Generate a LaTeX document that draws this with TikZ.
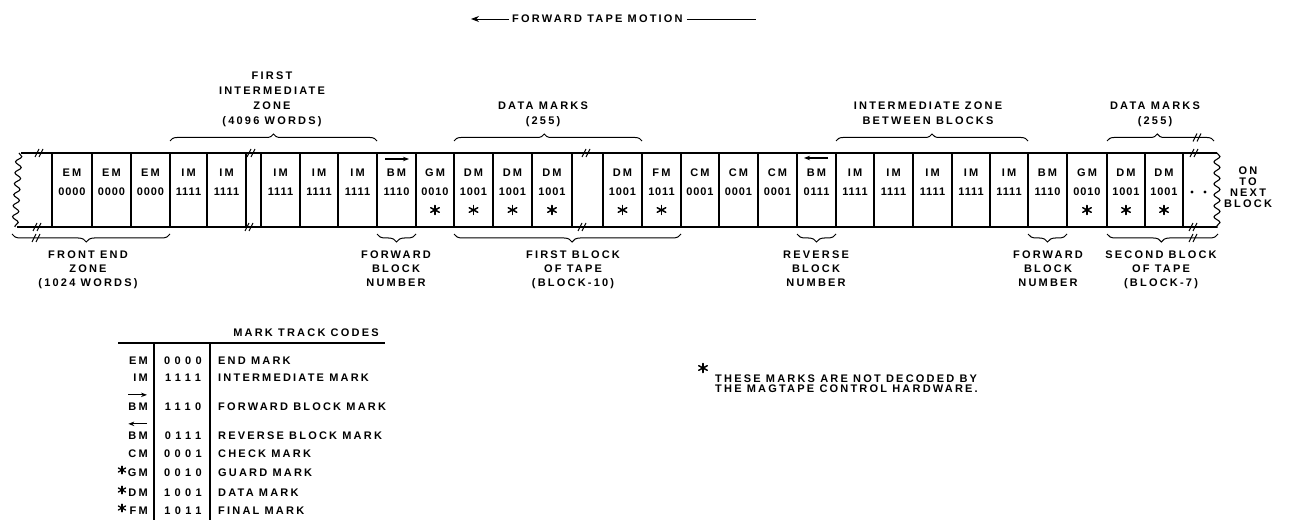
\documentclass[tikz,border=0pt]{standalone}
\usepackage{fontspec}
\newfontfamily\lett{Liberation Sans}[LetterSpace=20]
\newfontfamily\codef{Liberation Sans}[LetterSpace=40]
\newfontfamily\cellf{Liberation Sans}[LetterSpace=8]
\usetikzlibrary{decorations.pathreplacing,decorations.pathmorphing,arrows.meta}
\tikzset{
  cellbox/.style={draw, line width=1.3pt, inner sep=0pt, outer sep=0pt, minimum height=74pt},
  tape/.style={line width=1.3pt},
  one/.style={font={\lett\bfseries\fontsize{11}{13}\selectfont}, inner sep=0pt, text height=7.9pt, text depth=0pt},
  codes/.style={font={\codef\bfseries\fontsize{11}{13}\selectfont}, inner sep=0pt, text height=7.9pt, text depth=0pt},
  cellcode/.style={font={\cellf\bfseries\fontsize{11}{13}\selectfont}, inner sep=0pt, text height=7.9pt, text depth=0pt},
  multi/.style={font={\lett\bfseries\fontsize{11}{#1}\selectfont}, inner sep=0pt, align=center, anchor=north},
  multi/.default=14,
  braceup/.style={decorate, decoration={brace, amplitude=7pt, aspect=#1}, line width=1pt},
  braceup/.default=0.5,
  bracedn/.style={decorate, decoration={brace, amplitude=8pt, aspect=#1}, line width=1pt},
  bracedn/.default=0.5,
  brk/.style={line width=1pt},
  wavy/.style={decorate, decoration={snake, amplitude=3pt, segment length=11pt}, line width=1.1pt},
  tip/.style={-{Stealth[length=6pt,width=4.5pt]}, line width=1.1pt},
  astmark/.pic={
    \draw[line width=1.5pt, line cap=round] (0,-4.5) -- (0,4.5);
    \draw[line width=1.5pt, line cap=round] (-4.3,-2.3) -- (4.3,2.3);
    \draw[line width=1.5pt, line cap=round] (-4.3,2.3) -- (4.3,-2.3);
  },
  astsmall/.pic={
    \draw[line width=1.3pt, line cap=round] (0,-3.8) -- (0,3.8);
    \draw[line width=1.3pt, line cap=round] (-3.6,-2) -- (3.6,2);
    \draw[line width=1.3pt, line cap=round] (-3.6,2) -- (3.6,-2);
  }
}
\begin{document}
\begin{tikzpicture}[x=1pt,y=-1pt]
\useasboundingbox (0,0) rectangle (1289,521);

% forward tape motion
\node[one, anchor=west] (motion) at (512,19) {FORWARD TAPE MOTION};
\coordinate (mL) at (471,19);
\coordinate (mR) at (756,19);
\draw[-{Stealth[length=8pt,width=6pt]}, line width=0.9pt] ([xshift=-3pt]motion.west) -- (mL);
\draw[line width=0.9pt] ([xshift=4pt]motion.east) -- (mR);

% tape edges
\draw[tape] (21,153) -- (1217,153);
\draw[tape] (17,227) -- (1217,227);
\draw[wavy] (19,153) -- (15,227);
\draw[wavy] (1217,153) -- (1217,228);

% cells
\foreach \ii/\xa/\xb/\lab/\code in {
  1/52/92/EM/0000, 2/92/131/EM/0000, 3/131/170/EM/0000,
  4/170/207/IM/1111, 5/207/246/IM/1111,
  6/261/300/IM/1111, 7/300/338/IM/1111, 8/338/377/IM/1111,
  9/377/416/BM/1110, 10/416/454/GM/0010,
  11/454/493/DM/1001, 12/493/532/DM/1001, 13/532/572/DM/1001,
  14/603/642/DM/1001, 15/642/681/FM/1011,
  16/681/719/CM/0001, 17/719/758/CM/0001, 18/758/797/CM/0001,
  19/797/836/BM/0111,
  20/836/874/IM/1111, 21/874/913/IM/1111, 22/913/952/IM/1111,
  23/952/990/IM/1111, 24/990/1028/IM/1111,
  25/1028/1067/BM/1110, 26/1067/1107/GM/0010,
  27/1107/1145/DM/1001, 28/1145/1183/DM/1001} {
  \pgfmathsetmacro\cw{\xb-\xa}
  \pgfmathsetmacro\cm{(\xa+\xb)/2}
  \node[cellbox, minimum width=\cw pt] (c\ii) at (\cm,190) {};
  \node[one] (t\ii) at (\cm,173) {\lab};
  \node[cellcode] (k\ii) at (\cm,192) {\code};
}
\foreach \sx in {435, 473.5, 512.5, 552, 622.5, 661.5, 1087, 1126, 1164}
  \pic at (\sx,210) {astmark};

\draw[tip] ([shift={(8pt,-6pt)}]c9.north west) -- ([shift={(-7pt,-6pt)}]c9.north east);
\draw[tip] ([shift={(-8pt,-5pt)}]c19.north east) -- ([shift={(7pt,-5pt)}]c19.north west);

% dots at the end
\fill (1192,192) circle (1.7);
\fill (1205,192) circle (1.7);

% break marks
\foreach \bx/\by in {40/153, 252/153, 587/153, 1195/153, 38/227, 250/227, 583/227, 1194/227,
                   37/238, 1198/137.5, 1194/238} {
  \draw[brk] (\bx-5,\by+4) -- (\bx-1,\by-4);
  \draw[brk] (\bx-1,\by+4) -- (\bx+3,\by-4);
}

% upper braces
\draw[braceup] ([yshift=12pt]c4.north west) -- ([yshift=12pt]c8.north east);
\draw[braceup=0.48] ([yshift=12pt]c11.north west) -- ([yshift=12pt]c14.north east);
\draw[braceup] ([yshift=12pt]c20.north west) -- ([yshift=12pt]c24.north east);
\coordinate (bu4) at (1214,141);
\draw[braceup=0.47] ([yshift=12pt]c27.north west) -- (bu4);

% lower braces
\coordinate (bl1) at (12,234);
\draw[bracedn=0.53] ([yshift=-7pt]c3.south east) -- (bl1);
\draw[bracedn] ([yshift=-7pt]c9.south east) -- ([yshift=-7pt]c9.south west);
\draw[bracedn=0.48] ([yshift=-7pt]c15.south east) -- ([yshift=-7pt]c11.south west);
\draw[bracedn] ([yshift=-7pt]c19.south east) -- ([yshift=-7pt]c19.south west);
\draw[bracedn] ([yshift=-7pt]c25.south east) -- ([yshift=-7pt]c25.south west);
\coordinate (bl6) at (1218,234);
\draw[bracedn=0.51] (bl6) -- ([yshift=-7pt]c27.south west);

% upper labels
\node[multi=15] (u1) at (272,72.05) {FIRST\\INTERMEDIATE\\ZONE\\(4096 WORDS)};
\node[multi=15] (u2) at (543,102.05) {DATA MARKS\\(255)};
\node[multi=15] (u3) at (928,102.05) {INTERMEDIATE ZONE\\BETWEEN BLOCKS};
\node[multi=15] (u4) at (1155,102.05) {DATA MARKS\\(255)};

% lower labels
\node[multi] (d1) at (88,251.05) {FRONT END\\ZONE\\(1024 WORDS)};
\node[multi] (d2) at (396,251.05) {FORWARD\\BLOCK\\NUMBER};
\node[multi] (d3) at (573,251.05) {FIRST BLOCK\\OF TAPE\\(BLOCK-10)};
\node[multi] (d4) at (816,251.05) {REVERSE\\BLOCK\\NUMBER};
\node[multi] (d5) at (1048,251.05) {FORWARD\\BLOCK\\NUMBER};
\node[multi] (d6) at (1161,251.05) {SECOND BLOCK\\OF TAPE\\(BLOCK-7)};

% on to next block
\node[multi=10.7] (next) at (1248,167.05) {ON\\TO\\NEXT\\BLOCK};

% legend
\node[one] (lh) at (306,333) {MARK TRACK CODES};
\draw[tape] (118,343) -- (385,343);
\draw[tape] (154,343) -- (154,520);
\draw[tape] (210,343) -- (210,520);
\foreach \nn/\yy/\mk/\cd/\ds in {
  1/361/EM/0000/END MARK, 2/378/IM/1111/INTERMEDIATE MARK,
  3/407/BM/1110/FORWARD BLOCK MARK, 4/436/BM/0111/REVERSE BLOCK MARK,
  5/454/CM/0001/CHECK MARK, 6/473/GM/0010/GUARD MARK,
  7/493/DM/1001/DATA MARK, 8/511/FM/1011/FINAL MARK} {
  \node[one, anchor=east] (lm\nn) at (148,\yy) {\mk};
  \node[codes] (lc\nn) at (183,\yy) {\cd};
  \node[one, anchor=west] (ld\nn) at (218,\yy) {\ds};
}
\draw[tip] ([shift={(0pt,8pt)}]lm3.north west) -- ([shift={(-1pt,8pt)}]lm3.north east);
\draw[tip] ([shift={(-1pt,8pt)}]lm4.north east) -- ([shift={(0pt,8pt)}]lm4.north west);
\foreach \sy in {470, 490, 508}
  \pic at (122,\sy) {astsmall};

% footnote
\pic at (703,368) {astmark};
\node[multi=10, anchor=north west, align=left] (fn) at (715,375.05) {THESE MARKS ARE NOT DECODED BY\\THE MAGTAPE CONTROL HARDWARE.};
\end{tikzpicture}
\end{document}
